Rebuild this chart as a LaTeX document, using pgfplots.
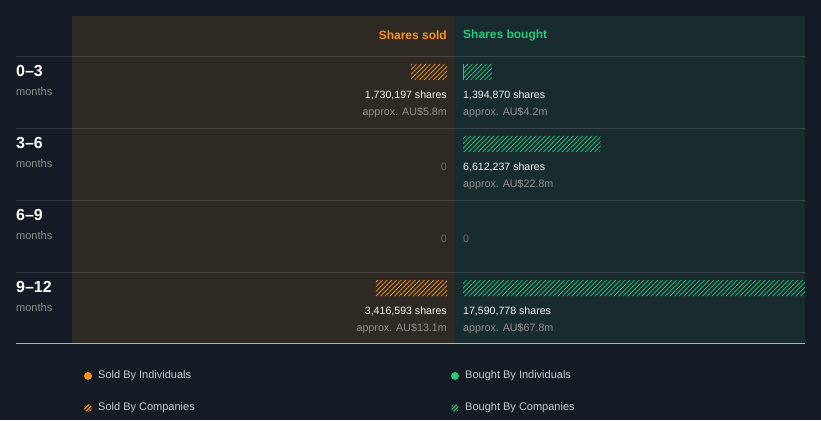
\documentclass[border=0pt]{standalone}
\usepackage{pgfplots}
\pgfplotsset{compat=1.18}
\usepackage{fontspec}
\setmainfont{Liberation Sans}
\usetikzlibrary{patterns.meta}
\definecolor{bg}{HTML}{151B25}
\definecolor{leftp}{HTML}{2E2923}
\definecolor{rightp}{HTML}{182B2E}
\definecolor{sold}{HTML}{F7941D}
\definecolor{bought}{HTML}{2BC77E}
\definecolor{txt}{HTML}{F2F2F2}
\definecolor{muted}{HTML}{8E8E8E}
\definecolor{zero}{HTML}{6E6B68}
\definecolor{legtxt}{HTML}{C8CACD}
\definecolor{base}{HTML}{A9B6BC}
\begin{document}
\begin{tikzpicture}[x=1pt,y=1pt]
\fill[bg] (0,0) rectangle (821,420);
\fill[leftp] (72,77) rectangle (455,404);
\fill[rightp] (455,77) rectangle (805,404);
\foreach \yy in {364,292,220,148}{\draw[white,opacity=0.12,line width=0.8pt] (16,\yy) -- (805,\yy);}
\draw[base,line width=0.8pt] (16,77) -- (805,77);
% headers
\node[anchor=east,font=\fontsize{12}{14}\selectfont\bfseries,text=sold,inner sep=0pt] at (447,385) {Shares sold};
\node[anchor=west,font=\fontsize{12}{14}\selectfont\bfseries,text=bought,inner sep=0pt] at (463,385) {Shares bought};
% row labels
\foreach \yy/\lab in {349/0--3,277/3--6,205/6--9,133/9--12}{
 \node[anchor=west,font=\fontsize{16}{18}\selectfont\bfseries,text=white,inner sep=0pt] at (16,\yy) {\lab};
 \node[anchor=west,font=\fontsize{11}{13}\selectfont,text=muted,inner sep=0pt] at (16,\yy-21) {months};
}
\begin{axis}[at={(72pt,77pt)}, anchor=south west, scale only axis, width=375pt, height=327pt, hide axis,
  xmin=0, xmax=18030000, x dir=reverse, ymin=-0.7778, ymax=3.7639, y dir=reverse,
  xbar stacked, bar width=16pt]
\addplot[draw=none, fill=sold] coordinates {(0,0) (0,1) (0,2) (0,3)};
\addplot[draw=none, pattern={Lines[angle=45,distance=3.3pt,line width=0.75pt]}, pattern color=sold] coordinates {(1730197,0) (0,1) (0,2) (3416593,3)};
\end{axis}
\begin{axis}[at={(463pt,77pt)}, anchor=south west, scale only axis, width=342pt, height=327pt, hide axis,
  xmin=0, xmax=16440000, ymin=-0.7778, ymax=3.7639, y dir=reverse,
  xbar stacked, bar width=16pt]
\addplot[draw=none, fill=bought] coordinates {(55000,0) (0,1) (0,2) (0,3)};
\addplot[draw=none, pattern={Lines[angle=45,distance=3.3pt,line width=0.75pt]}, pattern color=bought] coordinates {(1339870,0) (6612237,1) (0,2) (17590778,3)};
\end{axis}
% value labels
\tikzset{sh/.style={font=\fontsize{10.6}{13}\selectfont,text=txt,inner sep=0pt},
         ap/.style={font=\fontsize{10.7}{13}\selectfont,text=muted,inner sep=0pt},
         zr/.style={font=\fontsize{10.7}{13}\selectfont,text=zero,inner sep=0pt}}
\node[sh,anchor=east] at (447,325) {1,730,197 shares};
\node[ap,anchor=east] at (447,307) {approx. AU\$5.8m};
\node[sh,anchor=west] at (463,325) {1,394,870 shares};
\node[ap,anchor=west] at (463,307) {approx. AU\$4.2m};
\node[zr,anchor=east] at (447,253) {0};
\node[sh,anchor=west] at (463,253) {6,612,237 shares};
\node[ap,anchor=west] at (463,235) {approx. AU\$22.8m};
\node[zr,anchor=east] at (447,181) {0};
\node[zr,anchor=west] at (463,181) {0};
\node[sh,anchor=east] at (447,109) {3,416,593 shares};
\node[ap,anchor=east] at (447,91) {approx. AU\$13.1m};
\node[sh,anchor=west] at (463,109) {17,590,778 shares};
\node[ap,anchor=west] at (463,91) {approx. AU\$67.8m};
% legend
\tikzset{lg/.style={anchor=west,font=\fontsize{11}{13}\selectfont,text=legtxt,inner sep=0pt}}
\fill[sold] (88,44) circle (4);
\node[lg] at (98,44) {Sold By Individuals};
\fill[pattern={Lines[angle=45,distance=2.6pt,line width=1.2pt]}, pattern color=sold] (88,12) circle (4);
\node[lg] at (98,12) {Sold By Companies};
\fill[bought] (455,44) circle (4);
\node[lg] at (465,44) {Bought By Individuals};
\fill[pattern={Lines[angle=45,distance=2.6pt,line width=1.2pt]}, pattern color=bought] (455,12) circle (4);
\node[lg] at (465,12) {Bought By Companies};
\end{tikzpicture}
\end{document}
